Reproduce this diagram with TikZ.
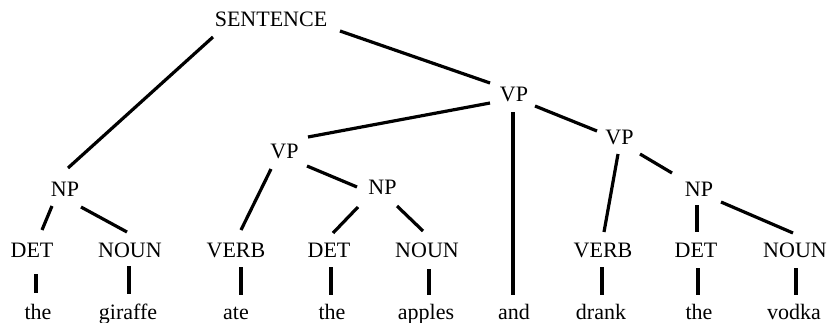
\documentclass[tikz,border=0pt]{standalone}
\usepackage{fontspec}
\setmainfont{Liberation Serif}
\begin{document}
\begin{tikzpicture}[x=0.5pt,y=-0.5pt,
  lbl/.style={inner sep=0pt,outer sep=0pt,font=\fontsize{11}{13}\selectfont,text height=7.3pt,text depth=0pt},
  word/.style={inner sep=0pt,outer sep=0pt,font=\fontsize{11}{13}\selectfont,anchor=base},
  edge/.style={line width=1.6pt},
  leaf/.style={line width=1.9pt}]
\useasboundingbox (0,0) rectangle (838,322);
% phrase nodes
\node[lbl] (S)   at (271,19.5)   {SENTENCE};
\node[lbl] (VP1) at (514,94.5)   {VP};
\node[lbl] (VPL) at (284.5,151)  {VP};
\node[lbl] (VPR) at (619.5,137.5){VP};
\node[lbl] (NPL) at (65,189)     {NP};
\node[lbl] (NPM) at (382.5,187.5){NP};
\node[lbl] (NPR) at (699,189.5)  {NP};
% preterminals
\node[lbl] (DETL)  at (32,250.5)  {DET};
\node[lbl] (NOUNL) at (130,250.5) {NOUN};
\node[lbl] (VERBL) at (236,250.5) {VERB};
\node[lbl] (DETM)  at (329,250.5) {DET};
\node[lbl] (NOUNM) at (427,250.5) {NOUN};
\node[lbl] (VERBR) at (603,250.5) {VERB};
\node[lbl] (DETR)  at (696,250.5) {DET};
\node[lbl] (NOUNR) at (795,250.5) {NOUN};
% words
\node[word] (w1) at (38,319.5)  {the};
\node[word] (w2) at (128,319.5) {giraffe};
\node[word] (w3) at (236,319.5) {ate};
\node[word] (w4) at (332,319.5) {the};
\node[word] (w5) at (426,319.5) {apples};
\node[word] (w6) at (514,319.5) {and};
\node[word] (w7) at (601,319.5) {drank};
\node[word] (w8) at (699,319.5) {the};
\node[word] (w9) at (794,319.5) {vodka};
% branches
\draw[edge] ([shift={(-58,17.5)}]S.center)   -- ([shift={(3,-21)}]NPL.center);
\draw[edge] ([shift={(69,11.5)}]S.center)    -- ([shift={(-24,-11.5)}]VP1.center);
\draw[edge] ([shift={(-24,8.5)}]VP1.center)  -- ([shift={(23.5,-14)}]VPL.center);
\draw[edge] ([shift={(21,11.5)}]VP1.center)  -- ([shift={(-22.5,-6.5)}]VPR.center);
\draw[edge] ([shift={(-13,17)}]NPL.center)   -- ([shift={(10,-20.5)}]DETL.center);
\draw[edge] ([shift={(16,18)}]NPL.center)    -- ([shift={(-3,-18.5)}]NOUNL.center);
\draw[edge] ([shift={(-13.5,18)}]VPL.center) -- ([shift={(5,-20.5)}]VERBL.center);
\draw[edge] ([shift={(22.5,15)}]VPL.center)  -- ([shift={(-25.5,-0.5)}]NPM.center);
\draw[edge] ([shift={(-24.5,19.5)}]NPM.center) -- ([shift={(4,-17.5)}]DETM.center);
\draw[edge] ([shift={(14.5,18.5)}]NPM.center)  -- ([shift={(-4,-19.5)}]NOUNM.center);
\draw[edge] ([shift={(-1.5,16.5)}]VPR.center)  -- ([shift={(1,-18.5)}]VERBR.center);
\draw[edge] ([shift={(20.5,16.5)}]VPR.center)  -- ([shift={(-27,-16.5)}]NPR.center);
\draw[edge] ([shift={(-2,15.5)}]NPR.center)    -- ([shift={(1,-18.5)}]DETR.center);
\draw[edge] ([shift={(22,12.5)}]NPR.center)    -- ([shift={(-2,-17.5)}]NOUNR.center);
\draw[edge] ([shift={(-1,17.5)}]VP1.center)    -- ([shift={(-1,-24.5)}]w6.base);
% leaves
\draw[leaf] ([shift={(4,23.5)}]DETL.center)  -- ([shift={(-2,-26.5)}]w1.base);
\draw[leaf] ([shift={(-1,15.5)}]NOUNL.center) -- ([shift={(1,-25.5)}]w2.base);
\draw[leaf] ([shift={(5,16.5)}]VERBL.center) -- ([shift={(5,-24.5)}]w3.base);
\draw[leaf] ([shift={(2,16.5)}]DETM.center)  -- ([shift={(-1,-24.5)}]w4.base);
\draw[leaf] ([shift={(2,18.5)}]NOUNM.center) -- ([shift={(3,-24.5)}]w5.base);
\draw[leaf] ([shift={(-1,16.5)}]VERBR.center) -- ([shift={(1,-24.5)}]w7.base);
\draw[leaf] ([shift={(2,17.5)}]DETR.center)  -- ([shift={(-1,-24.5)}]w8.base);
\draw[leaf] ([shift={(1,17.5)}]NOUNR.center) -- ([shift={(2,-24.5)}]w9.base);
\end{tikzpicture}
\end{document}
